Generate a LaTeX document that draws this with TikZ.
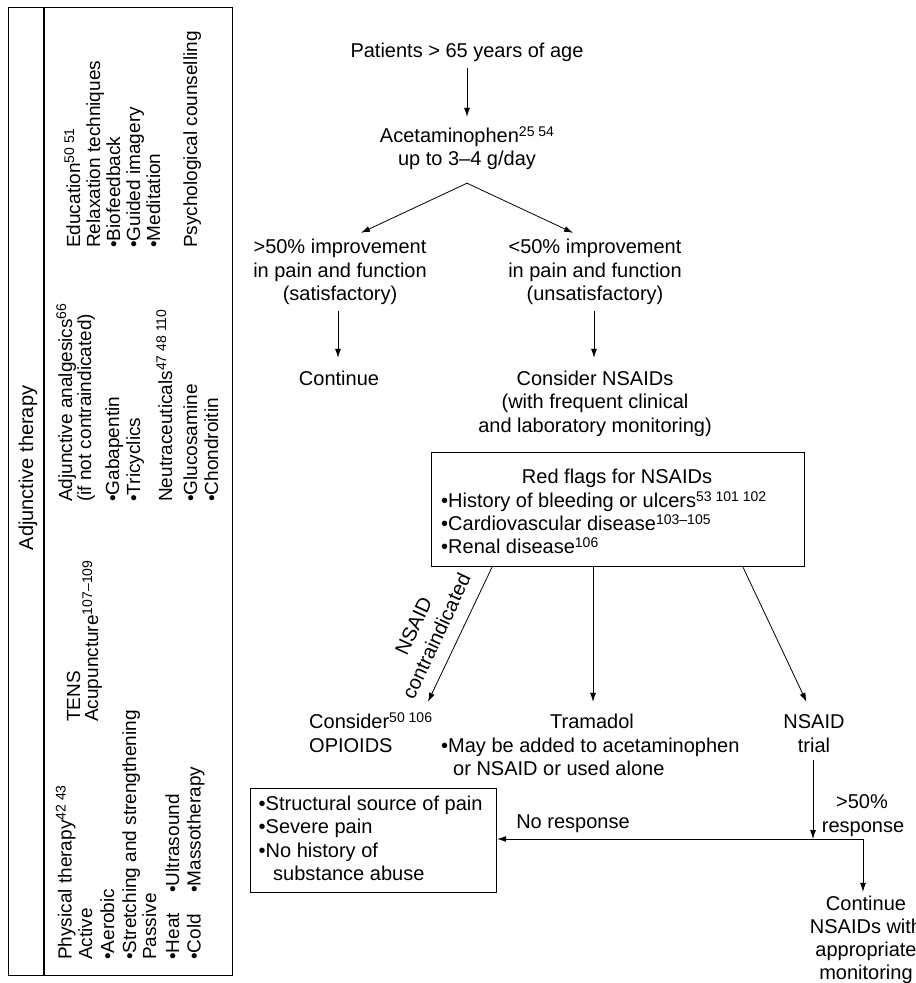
\documentclass[tikz,border=0pt]{standalone}
\usepackage{fontspec}
\setmainfont{Liberation Sans}
\usetikzlibrary{arrows.meta}
\newcommand\fsR{\fontsize{20}{23.5}\selectfont}
\newcommand\fsL{\fontsize{19}{20.5}\selectfont}
\newcommand\sups[1]{\raisebox{6pt}{\fontsize{14}{14}\selectfont #1}}
\begin{document}
\begin{tikzpicture}[x=1pt,y=-1pt,
  lbl/.style={inner sep=0pt, text height=15pt, text depth=5pt, font=\fsR},
  rot/.style={rotate=90, anchor=base west, inner sep=0pt, font=\fsL},
  arr/.style={-{Latex[length=9pt,width=6pt]}, line width=0.8pt},
  frame/.style={draw, line width=1.2pt, inner sep=0pt},
]
\useasboundingbox (0,0) rectangle (916,983);

% ---------------- left panel ----------------
\node[frame, minimum width=224pt, minimum height=968pt, anchor=north west] (panel) at (8,7) {};
\draw[line width=1.2pt] ([xshift=36pt]panel.north west) -- ([xshift=36pt]panel.south west);
\node[rotate=90, anchor=base, inner sep=0pt, font=\fontsize{20}{24}\selectfont] (ttl) at (33,468) {Adjunctive therapy};

\node[rot] (p1) at (71.5,960) {Physical therapy\sups{42 43}};
\node[rot] (p2) at (92,960) {Active};
\node[rot] (p3) at (114,960) {•Aerobic};
\node[rot] (p4) at (136,960) {•Stretching and strengthening};
\node[rot] (p5) at (156,960) {Passive};
\node[rot] (p6) at (179,960) {•Heat};
\node[rot] (p7) at (200.5,960) {•Cold};
\node[rot] (p8) at (179,893) {•Ultrasound};
\node[rot] (p9) at (200.5,893) {•Massotherapy};

\node[rot] (t1) at (80,722) {TENS};
\node[rot] (t2) at (98,722) {Acupuncture\sups{107–109}};

\node[rot] (a1) at (72,502) {Adjunctive analgesics\sups{66}};
\node[rot] (a2) at (91,502) {(if not contraindicated)};
\node[rot] (a3) at (119,502) {•Gabapentin};
\node[rot] (a4) at (140,502) {•Tricyclics};
\node[rot] (a5) at (172,502) {Neutraceuticals\sups{47 48 110}};
\node[rot] (a6) at (197,502) {•Glucosamine};
\node[rot] (a7) at (218,502) {•Chondroitin};

\node[rot] (e1) at (80,248) {Education\sups{50 51}};
\node[rot] (e2) at (100,248) {Relaxation techniques};
\node[rot] (e3) at (120,248) {•Biofeedback};
\node[rot] (e4) at (140,248) {•Guided imagery};
\node[rot] (e5) at (160,248) {•Meditation};
\node[rot] (e6) at (197,248) {Psychological counselling};

% ---------------- flowchart ----------------
\node[lbl, anchor=base] (pat) at (467,57) {Patients > 65 years of age};
\node[lbl, anchor=base] (ac1) at (467,142) {Acetaminophen\sups{25 54}};
\node[lbl, anchor=base] (ac2) at (467,165) {up to 3–4 g/day};

\node[lbl, anchor=base] (g1) at (340,253) {>50\% improvement};
\node[lbl, anchor=base] (g2) at (340,277) {in pain and function};
\node[lbl, anchor=base] (g3) at (340,300) {(satisfactory)};
\node[lbl, anchor=base] (b1) at (595,253) {<50\% improvement};
\node[lbl, anchor=base] (b2) at (595,277) {in pain and function};
\node[lbl, anchor=base] (b3) at (595,300) {(unsatisfactory)};

\node[lbl, anchor=base] (cont) at (339,385) {Continue};
\node[lbl, anchor=base] (cn1) at (595,385) {Consider NSAIDs};
\node[lbl, anchor=base] (cn2) at (595,408) {(with frequent clinical};
\node[lbl, anchor=base] (cn3) at (595,432) {and laboratory monitoring)};

\node[frame, minimum width=373.5pt, minimum height=114pt, anchor=north west] (rf) at (430.5,452) {};
\node[lbl, anchor=base] (rf0) at (617,483) {Red flags for NSAIDs};
\node[lbl, anchor=base west] (rf1) at (441,507) {•History of bleeding or ulcers\sups{53 101 102}};
\node[lbl, anchor=base west] (rf2) at (441,530) {•Cardiovascular disease\sups{103–105}};
\node[lbl, anchor=base west] (rf3) at (441,553) {•Renal disease\sups{106}};

\node[lbl, anchor=base west] (op1) at (309,728) {Consider\sups{50 106}};
\node[lbl, anchor=base west] (op2) at (309,752) {OPIOIDS};
\node[lbl, anchor=base] (tr1) at (592,728) {Tramadol};
\node[lbl, anchor=base west] (tr2) at (441,752) {•May be added to acetaminophen};
\node[lbl, anchor=base west] (tr3) at (453,775) {or NSAID or used alone};
\node[lbl, anchor=base] (ns1) at (814,728) {NSAID};
\node[lbl, anchor=base] (ns2) at (814,752) {trial};

\node[frame, minimum width=246pt, minimum height=104pt, anchor=north west] (nobox) at (250,788) {};
\node[lbl, anchor=base west] (nb1) at (258.5,810) {•Structural source of pain};
\node[lbl, anchor=base west] (nb2) at (258.5,833) {•Severe pain};
\node[lbl, anchor=base west] (nb3) at (258.5,857) {•No history of};
\node[lbl, anchor=base west] (nb4) at (273,880) {substance abuse};

\node[lbl, anchor=base] (nr) at (573,828) {No response};
\node[lbl, anchor=base] (r50) at (862,808) {>50\%};
\node[lbl, anchor=base] (resp) at (863,832) {response};

\node[lbl, anchor=base] (cf1) at (866,910) {Continue};
\node[lbl, anchor=base] (cf2) at (866,933) {NSAIDs with};
\node[lbl, anchor=base] (cf3) at (866,956) {appropriate};
\node[lbl, anchor=base] (cf4) at (866,979) {monitoring};

\node[rotate=65, align=center, inner sep=0pt, font=\fontsize{20}{25}\selectfont] (nci) at (425,631) {NSAID\\contraindicated};

\coordinate (jn) at (863,839);

% connectors
\draw[arr, shorten <=6pt, shorten >=10pt] (pat.south) -- (ac1.north);
\draw[arr] ([yshift=-13pt]ac2.south) -- ([xshift=21pt,yshift=5pt]g1.north);
\draw[arr] ([yshift=-13pt]ac2.south) -- ([xshift=-22pt,yshift=5pt]b1.north);
\draw[arr, shorten <=6pt, shorten >=12pt] ([xshift=-2pt]g3.south) -- ([xshift=-1pt]cont.north);
\draw[arr, shorten <=6pt, shorten >=12pt] ([xshift=-1pt]b3.south) -- ([xshift=-1pt]cn1.north);

\draw[arr] ([xshift=61.5pt]rf.south west) -- ([xshift=119pt,yshift=11pt]op1.north west);
\draw[arr] ([xshift=162.5pt]rf.south west) -- ([xshift=1pt,yshift=11pt]tr1.north);
\draw[arr] ([xshift=312.5pt]rf.south west) -- ([xshift=-7.5pt,yshift=11pt]ns1.north);

\draw[arr, shorten <=3pt] ([xshift=-1pt]ns2.south) -- ([xshift=-1pt]ns2.south |- jn);
\draw[arr] (jn) -- (jn -| nobox.east);
\draw[arr, shorten >=3pt] (jn) -- (jn |- cf1.north);
\end{tikzpicture}
\end{document}
